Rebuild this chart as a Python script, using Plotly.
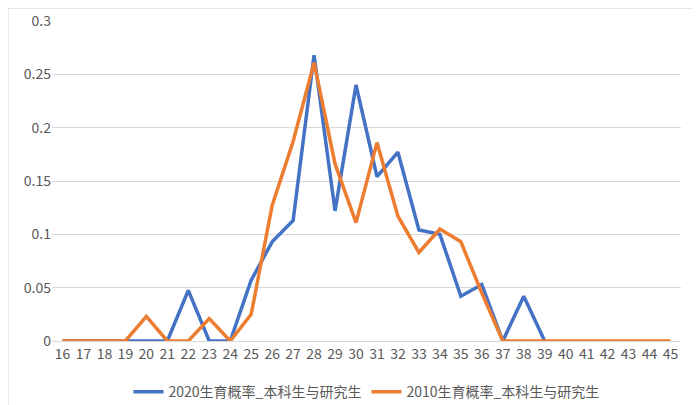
import plotly.graph_objects as go

ages = [str(a) for a in range(16, 46)]
blue_x = [str(a) for a in range(16, 40)]
blue_y = [0, 0, 0, 0, 0, 0, 0.0475, 0, 0, 0.057, 0.093, 0.113, 0.268, 0.122, 0.240, 0.154, 0.177, 0.104, 0.100, 0.042, 0.053, 0, 0.042, 0]
orange_y = [0, 0, 0, 0, 0.023, 0, 0, 0.021, 0, 0.025, 0.127, 0.187, 0.261, 0.166, 0.111, 0.186, 0.117, 0.083, 0.105, 0.093, 0.045, 0, 0, 0, 0, 0, 0, 0, 0, 0]
name_blue = "2020生育概率_本科生与研究生"
name_orange = "2010生育概率_本科生与研究生"

fig = go.Figure()
fig.add_trace(go.Scatter(x=blue_x, y=blue_y, mode="lines", name=name_blue,
                         line=dict(color="#4472C4", width=3.5)))
fig.add_trace(go.Scatter(x=ages, y=orange_y, mode="lines", name=name_orange,
                         line=dict(color="#ED7D31", width=3.5)))
fig.update_layout(
    width=700, height=405, plot_bgcolor="white", paper_bgcolor="white",
    margin=dict(l=44, r=27, t=13, b=72, autoexpand=False),
    font=dict(family="Noto Sans CJK SC, sans-serif", size=14, color="#595959"),
    legend=dict(orientation="h", x=0.5, xanchor="center", y=-0.11, yanchor="top",
                font=dict(size=14)),
    xaxis=dict(categoryorder="array", categoryarray=ages, showgrid=False,
               showline=True, linecolor="#D9D9D9", ticks="", range=[-0.5, 29.5]),
    yaxis=dict(range=[0, 0.3], dtick=0.05, gridcolor="#D9D9D9", zeroline=False,
               tickformat="~g", showline=False),
    shapes=[dict(type="rect", xref="paper", yref="paper", x0=-0.07, x1=1.035,
                 y0=-0.245, y1=1.04, line=dict(color="#D9D9D9", width=1))],
)
fig.write_html("out.html")
